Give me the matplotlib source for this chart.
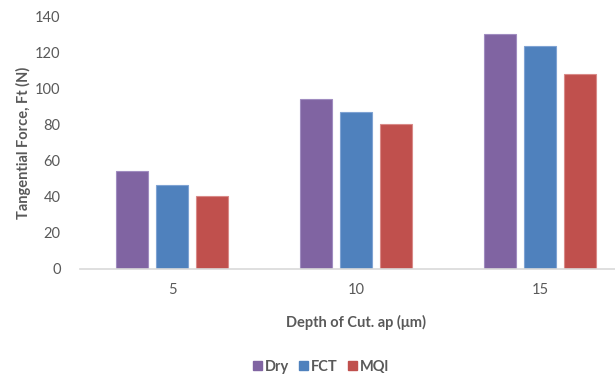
import matplotlib
matplotlib.use("Agg")
import matplotlib.pyplot as plt
import numpy as np
from matplotlib.patches import Patch

categories = ["5", "10", "15"]
series_names = ["Dry", "FCT", "MQl"]
dry = [54, 94, 130]
fct = [46.5, 87, 123.5]
mql = [40.5, 80, 108]
colors = ["#8064A2", "#4F81BD", "#C0504D"]
edges = ["#A08CC0", "#7FA3D3", "#D98A88"]

plt.rcParams['font.family'] = ['Lato', 'DejaVu Sans']
gray = "#595959"

fig = plt.figure(figsize=(6.15, 3.78), dpi=100)
ax = fig.add_axes([80/615, 109/378, 552/615, 253/378])

x = np.arange(len(categories))
w = 32/184
step = 40/184
for i, (vals, c, ec, name) in enumerate(zip([dry, fct, mql], colors, edges, series_names)):
    ax.bar(x + (i-1)*step, vals, width=w, color=c, edgecolor=ec, linewidth=0.8, label=name)

ax.set_xlim(-0.5, 2.5)
ax.set_ylim(0, 140)
ax.set_yticks(range(0, 141, 20))
ax.set_xticks(x)
ax.set_xticklabels(categories)
for s in ["top", "right", "left"]:
    ax.spines[s].set_visible(False)
ax.spines["bottom"].set_color("#D9D9D9")
ax.spines["bottom"].set_linewidth(1.2)
ax.tick_params(axis="y", length=0, pad=14, labelsize=10.5, labelcolor=gray)
ax.tick_params(axis="x", length=0, pad=10, labelsize=10.5, labelcolor=gray)

ax.set_ylabel("Tangential Force, Ft (N)", fontsize=10.5, fontweight="bold", color=gray)
ax.yaxis.set_label_coords((31-80)/552, 0.5)
fig.text(356/615, 1-322/378, "Depth of Cut. ap (μm)", ha="center", va="center",
         fontsize=10.5, fontweight="bold", color=gray)

handles = [Patch(facecolor=c, edgecolor=c) for c in colors]
fig.legend(handles, series_names, loc="center", bbox_to_anchor=(321/615, 1-367/378),
           ncol=3, frameon=False, handlelength=0.6, handleheight=0.6, handletextpad=0.2,
           columnspacing=0.7, prop={"weight": "bold", "size": 10.5}, labelcolor=gray)

fig.savefig("out.png", dpi=100)
